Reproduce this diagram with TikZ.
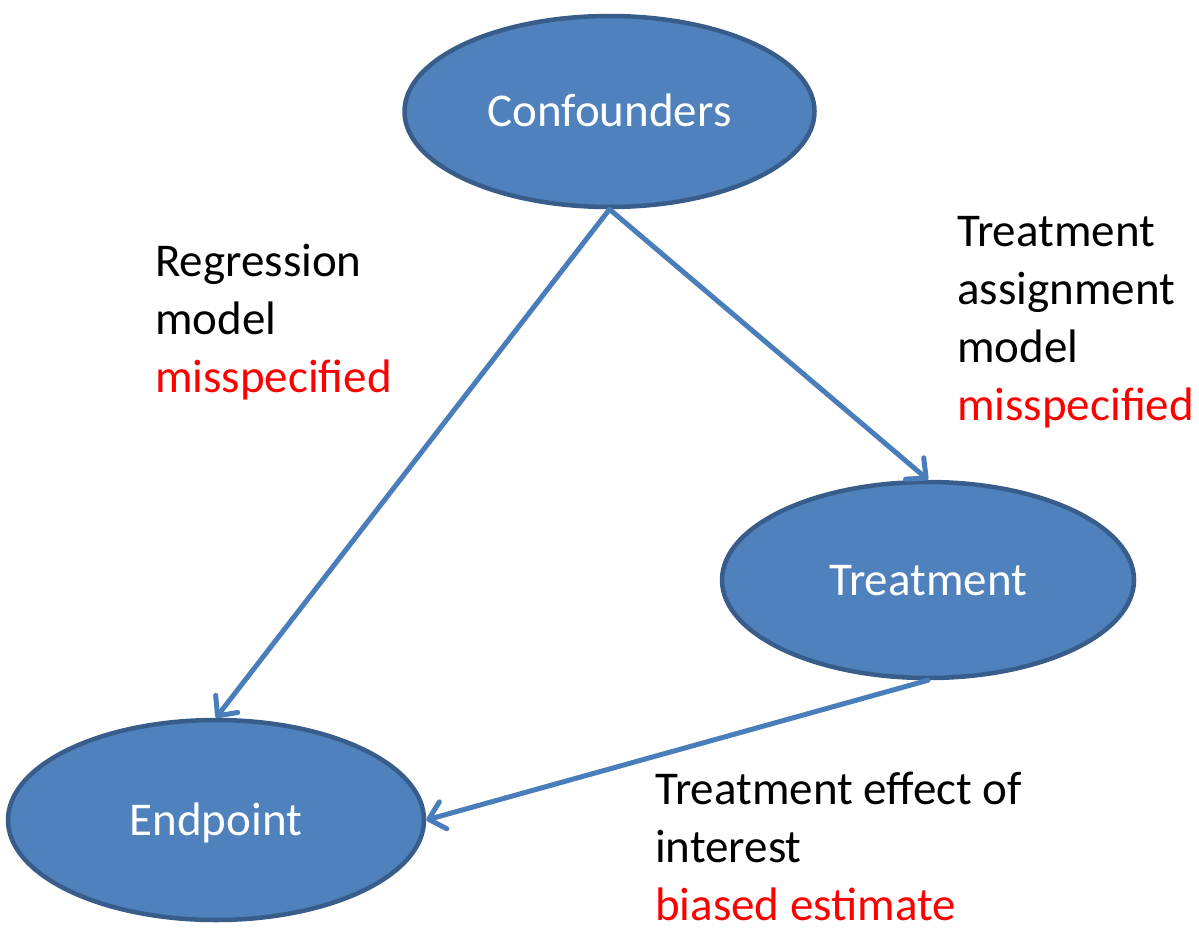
\documentclass[tikz,border=0pt]{standalone}
\usepackage{fontspec}
\setmainfont{Carlito}
\usetikzlibrary{shapes.geometric,arrows.meta}
\definecolor{nodefill}{HTML}{4F81BD}
\definecolor{nodeedge}{HTML}{385D8A}
\definecolor{linkblue}{HTML}{4A7EBB}
\definecolor{warnred}{HTML}{FF0000}
\tikzset{
  bubble/.style={ellipse, draw=nodeedge, fill=nodefill, line width=4.5pt,
    inner sep=0pt, text=white, font=\fontsize{47}{56}\selectfont,
    text height=30pt, text depth=0pt},
  link/.style={draw=linkblue, line width=5pt, line cap=round,
    -{Straight Barb[round,length=15pt,width=28pt]}},
  note/.style={anchor=base west, align=left, inner sep=0pt,
    font=\fontsize{47}{58}\selectfont}
}
\begin{document}
\begin{tikzpicture}[x=1pt,y=-1pt]
\useasboundingbox (0,0) rectangle (1199,929);
\node[bubble, minimum width=410pt, minimum height=191pt] (c) at (609.5,111.5) {Confounders};
\node[bubble, minimum width=412pt, minimum height=196pt] (t) at (928,580) {Treatment};
\node[bubble, minimum width=416pt, minimum height=200pt] (e) at (216,820) {Endpoint};

\draw[link] (c.south) -- (e.north);
\draw[link] (c.south) -- (t.north);
\draw[link] (t.south) -- (e.east);

% the base anchor of a multi-line note sits on its last line
\node[note] (rm) at (155,392) {Regression\\model\\\textcolor{warnred}{misspecified}};
\node[note] (tm) at (957,420) {Treatment\\assignment\\model\\\textcolor{warnred}{misspecified}};
\node[note] (te) at (655,920) {Treatment effect of\\interest\\\textcolor{warnred}{biased estimate}};
\end{tikzpicture}
\end{document}
